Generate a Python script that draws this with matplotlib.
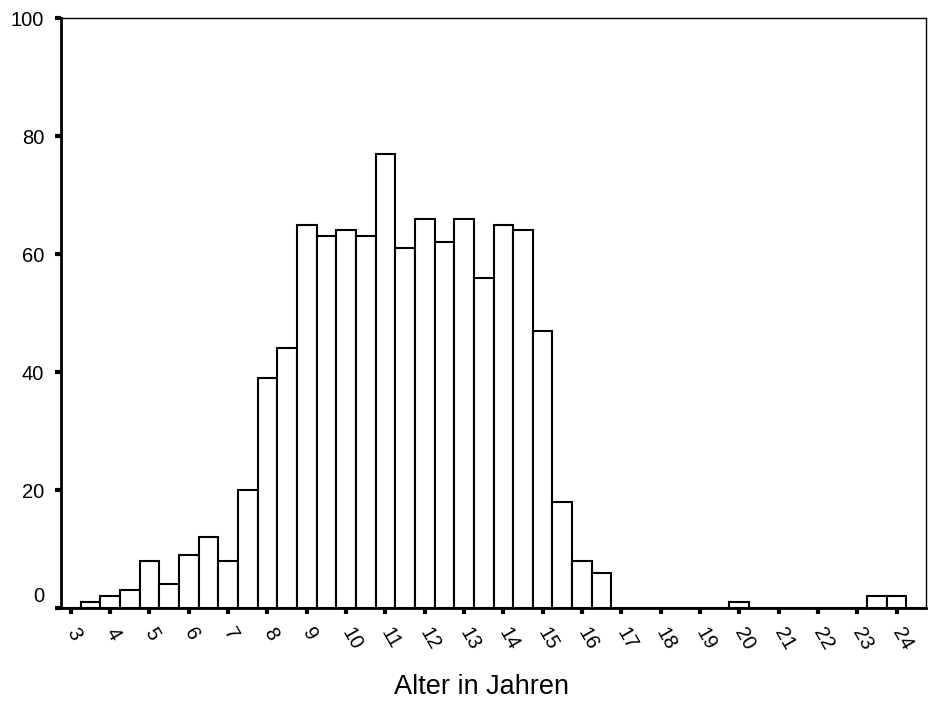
import numpy as np
import matplotlib
matplotlib.use("Agg")
import matplotlib.pyplot as plt
import matplotlib.transforms as mtransforms

plt.rcParams['font.family'] = ['Liberation Sans', 'DejaVu Sans']

# half-year bins, left edges from 2.5 to 24.0
bin_left = np.arange(2.5, 24.5, 0.5)
counts = [0, 1, 2, 3, 8, 4, 9, 12, 8, 20,
          39, 44, 65, 63, 64, 63, 77, 61, 66, 62,
          66, 56, 65, 64, 47, 18, 8, 6, 0, 0,
          0, 0, 0, 0, 1, 0, 0, 0, 0, 0,
          0, 2, 2, 0]
years = list(range(3, 25))
yticks = [0, 20, 40, 60, 80, 100]

fig = plt.figure(figsize=(9.3, 7.15), dpi=100)
ax = fig.add_axes([61/930, 1 - 608/715, 865/930, 590/715])

ax.bar(bin_left, counts, width=0.5, align='edge', color='white',
       edgecolor='black', linewidth=1.5)

ax.set_xlim(2.5, 24.5)
ax.set_ylim(0, 100)

# ticks sit half a bin left of the year label, like the original
ax.set_xticks([y - 0.25 for y in years])
ax.set_xticklabels([str(y) for y in years], rotation=-60, ha='left',
                   va='center', rotation_mode='anchor', fontsize=14.5)
ax.set_yticks(yticks)
ax.set_yticklabels([str(v) for v in yticks], fontsize=14.5)

ax.tick_params(axis='x', direction='out', length=4, width=3, pad=11)
ax.tick_params(axis='y', direction='out', length=4, width=3, pad=8)

# lift the "0" label above the baseline
lbl0 = ax.get_yticklabels()[0]
lbl0.set_transform(lbl0.get_transform() +
                   mtransforms.ScaledTranslation(0, 13/100, fig.dpi_scale_trans))

for side in ['left', 'bottom']:
    ax.spines[side].set_linewidth(2)
for side in ['top', 'right']:
    ax.spines[side].set_linewidth(1)

fig.text(481/930, 1 - 687/715, 'Alter in Jahren', ha='center', va='center',
         fontsize=19.5)

fig.savefig('out.png', dpi=100)
